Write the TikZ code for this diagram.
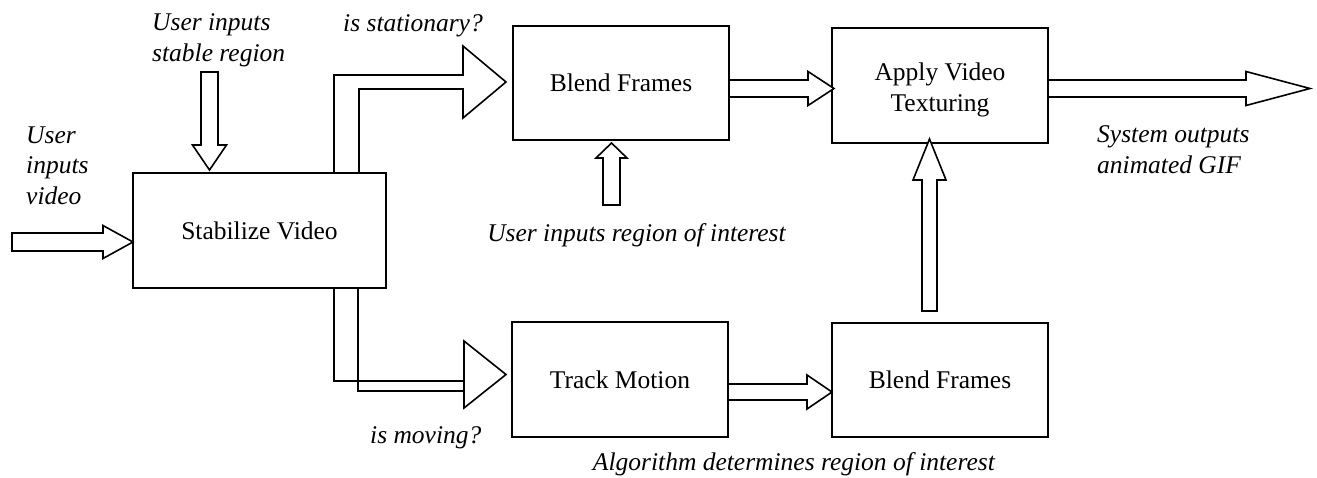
\documentclass[tikz,border=0pt]{standalone}
\usepackage{fontspec}
\setmainfont{Liberation Serif}
\usetikzlibrary{calc}
\newcommand\dgrm{\fontsize{25.5}{31}\selectfont}
\newcommand\dgit{\fontsize{25.5}{30.5}\selectfont\itshape}
% horizontal block arrow: tail, tip, shaft half, head half, head length
\newcommand\harr[5]{%
  \draw[blk] let \p1=(#1), \p2=(#2) in
    (\x1,\y2+#3pt) -- (\x2-#5pt,\y2+#3pt) -- (\x2-#5pt,\y2+#4pt) -- (\x2,\y2)
    -- (\x2-#5pt,\y2-#4pt) -- (\x2-#5pt,\y2-#3pt) -- (\x1,\y2-#3pt) -- cycle;}
% upward block arrow
\newcommand\uarr[5]{%
  \draw[blk] let \p1=(#1), \p2=(#2) in
    (\x2-#3pt,\y1) -- (\x2-#3pt,\y2-#5pt) -- (\x2-#4pt,\y2-#5pt) -- (\x2,\y2)
    -- (\x2+#4pt,\y2-#5pt) -- (\x2+#3pt,\y2-#5pt) -- (\x2+#3pt,\y1) -- cycle;}
% downward block arrow
\newcommand\darr[5]{%
  \draw[blk] let \p1=(#1), \p2=(#2) in
    (\x2-#3pt,\y1) -- (\x2-#3pt,\y2+#5pt) -- (\x2-#4pt,\y2+#5pt) -- (\x2,\y2)
    -- (\x2+#4pt,\y2+#5pt) -- (\x2+#3pt,\y2+#5pt) -- (\x2+#3pt,\y1) -- cycle;}
\begin{document}
\begin{tikzpicture}[x=1pt,y=-1pt,
  box/.style={draw, line width=1.8pt, minimum width=216pt, minimum height=115pt,
    inner sep=0pt, outer sep=0pt, font=\dgrm},
  blk/.style={draw, line width=1.6pt, fill=white, line join=miter},
  lbl/.style={font=\dgit, inner sep=0pt, align=left}]
\fill[white] (0,0) rectangle (1317,477);
\useasboundingbox (0,0) rectangle (1317,477);

% boxes
\node[box, minimum width=253pt] (stab) at (259.5,230.5) {Stabilize Video};
\node[box, minimum height=114pt] (blendA) at (621,83) {Blend Frames};
\node[box, align=center, text height=51pt, text depth=0pt] (apply) at (940,85.5) {Apply Video\\Texturing};
\node[box] (track) at (620,379.5) {Track Motion};
\node[box, minimum height=114pt] (blendB) at (940,380) {Blend Frames};

% free ends and tips
\coordinate (inT) at (12,242);
\coordinate (inH) at ($(stab.west)+(0,11.5)$);
\coordinate (stT) at (209.5,72);
\coordinate (stH) at ($(stab.north)+(-50,-3)$);
\coordinate (urT) at (611.5,205);
\coordinate (urH) at ($(blendA.south)+(-9.5,3)$);
\coordinate (outH) at (1310,88.5);

% straight block arrows
\harr{inT}{inH}{9}{16.5}{30}
\darr{stT}{stH}{8.5}{17}{25}
\harr{$(blendA.east)+(0,5.5)$}{$(apply.west)+(2,3)$}{8.5}{17}{26}
\uarr{urT}{urH}{8.5}{15.5}{15}
\harr{$(apply.east)+(0,3)$}{outH}{8.5}{17}{64}
\harr{$(track.east)+(0,12.5)$}{$(blendB.west)+(0,12)$}{8}{17}{25}
\uarr{$(blendB.north)+(-10.5,-12)$}{$(apply.south)+(-10.5,-4)$}{7.5}{16.5}{41}

% bent block arrows
\draw[blk] let \p1=(stab.north), \p2=(blendA.west) in
  (\x1+74.5pt,\y1) -- (\x1+74.5pt,\y2+8pt) -- (\x2-50pt,\y2+8pt) -- (\x2-50pt,\y2+37pt)
  -- (\x2-7pt,\y2+1pt) -- (\x2-50pt,\y2-35pt) -- (\x2-50pt,\y2-6pt)
  -- (\x1+99.5pt,\y2-6pt) -- (\x1+99.5pt,\y1) -- cycle;
\draw[blk] let \p1=(stab.south), \p2=(track.west) in
  (\x1+98.5pt,\y1) -- (\x1+98.5pt,\y2-11.5pt) -- (\x2-48pt,\y2-11.5pt) -- (\x2-48pt,\y2+38.5pt)
  -- (\x2-6pt,\y2+5pt) -- (\x2-48pt,\y2-28.5pt) -- (\x2-48pt,\y2-1.5pt)
  -- (\x1+74.5pt,\y2-1.5pt) -- (\x1+74.5pt,\y1) -- cycle;

% labels (base anchor = baseline of the last line)
\node[lbl, anchor=base west] (tSR) at (152,61) {User inputs\\stable region};
\node[lbl, anchor=base west] (tIV) at (26,204) {User\\inputs\\video};
\node[lbl, anchor=base west] (tST) at (343,31) {is stationary?};
\node[lbl, anchor=base] (tUR) at (636.5,241) {User inputs region of interest};
\node[lbl, anchor=base west] (tSO) at (1097,173) {System outputs\\animated GIF};
\node[lbl, anchor=base west] (tMV) at (370,443) {is moving?};
\node[lbl, anchor=base east] (tAL) at (995,470) {Algorithm determines region of interest};
\end{tikzpicture}
\end{document}
